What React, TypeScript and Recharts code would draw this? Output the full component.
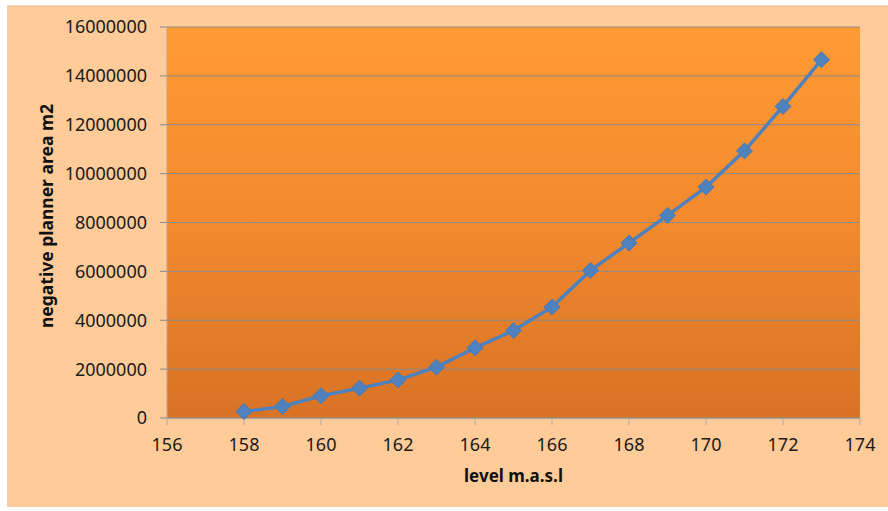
import { LineChart, Line, XAxis, YAxis, CartesianGrid, Label } from "recharts";

// water level (m a.s.l) against planar area (m2)
const levels = [158, 159, 160, 161, 162, 163, 164, 165, 166, 167, 168, 169, 170, 171, 172, 173];
const areas = [
  266000, 470000, 910000, 1220000, 1560000, 2080000, 2870000, 3580000, 4540000, 6040000,
  7160000, 8290000, 9450000, 10930000, 12750000, 14660000,
];
const xTicks = [156, 158, 160, 162, 164, 166, 168, 170, 172, 174];
const yTicks = [0, 2000000, 4000000, 6000000, 8000000, 10000000, 12000000, 14000000, 16000000];

const data = levels.map((level, i) => ({ level, area: areas[i] }));

const font = "'Noto Sans', 'Open Sans', sans-serif";

const Diamond = (props: any) => {
  const { cx, cy } = props;
  if (cx == null || cy == null) return null;
  const r = 8;
  return (
    <polygon
      points={`${cx},${cy - r} ${cx + r},${cy} ${cx},${cy + r} ${cx - r},${cy}`}
      fill="#4F81BD"
      stroke="#4A7AB5"
      strokeWidth={1}
    />
  );
};

const YTitle = () => {
  const x = 53;
  const y = 216;
  return (
    <text
      x={x}
      y={y}
      transform={`rotate(-90 ${x} ${y})`}
      textAnchor="middle"
      fontFamily={font}
      fontWeight="bold"
      fontSize={17.5}
      fill="#111"
    >
      negative planner area m2
    </text>
  );
};

export default function App() {
  return (
    <div style={{ position: "fixed", left: 0, top: 0, width: 888, height: 511, background: "#fff" }}>
      <div
        style={{
          position: "absolute",
          left: 7,
          top: 5,
          width: 881,
          height: 502,
          background: "#FECB99",
          borderLeft: "1px solid #d9d2cc",
          borderTop: "1px solid #e6d6c6",
          boxSizing: "border-box",
        }}
      />
      <div style={{ position: "absolute", left: 0, top: 0 }}>
        <LineChart
          width={888}
          height={511}
          data={data}
          margin={{ top: 27, right: 28, bottom: 23, left: 7 }}
        >
          <defs>
            <linearGradient id="plotBg" x1="0" y1="0" x2="0" y2="1">
              <stop offset="0%" stopColor="#FF9B33" />
              <stop offset="50%" stopColor="#F28A2E" />
              <stop offset="100%" stopColor="#D87326" />
            </linearGradient>
          </defs>
          <CartesianGrid vertical={false} stroke="#8E8A86" fill="url(#plotBg)" fillOpacity={1} />
          <XAxis
            dataKey="level"
            type="number"
            domain={[156, 174]}
            ticks={xTicks}
            height={70}
            tickSize={7}
            tickMargin={13}
            axisLine={{ stroke: "#9A8F86" }}
            tickLine={{ stroke: "#A9A9A9" }}
            tick={{ fontFamily: font, fontSize: 18, fill: "#1a1a1a" }}
          >
            <Label
              value="level m.a.s.l"
              position="insideBottom"
              offset={6}
              style={{ fontFamily: font, fontWeight: "bold", fontSize: 17, fill: "#111" }}
            />
          </XAxis>
          <YAxis
            type="number"
            domain={[0, 16000000]}
            ticks={yTicks}
            width={160}
            tickSize={7}
            tickMargin={13}
            interval={0}
            axisLine={{ stroke: "#A9A9A9" }}
            tickLine={{ stroke: "#8E8A86" }}
            tick={{ fontFamily: font, fontSize: 18, fill: "#1a1a1a" }}
          >
            <Label content={<YTitle />} />
          </YAxis>
          <Line
            type="linear"
            dataKey="area"
            stroke="#4F81BD"
            strokeWidth={3.5}
            dot={<Diamond />}
            activeDot={false}
            isAnimationActive={false}
          />
        </LineChart>
      </div>
    </div>
  );
}
